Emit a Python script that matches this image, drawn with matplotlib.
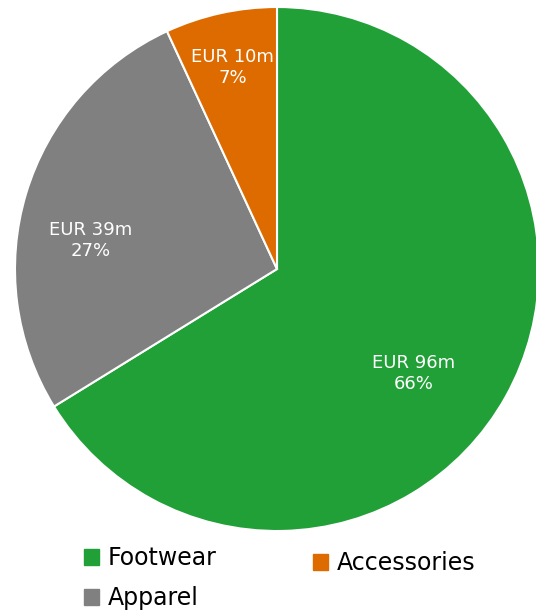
import numpy as np
import matplotlib.pyplot as plt
from matplotlib.patches import Patch

categories = ['Footwear', 'Apparel', 'Accessories']
values = [96, 39, 10]
colors = ['#21A038', '#808080', '#DD6B00']
# label spots in data units (pie radius = 1)
label_xy = [(0.52, -0.40), (-0.71, 0.11), (-0.17, 0.77)]

fig = plt.figure(figsize=(5.36, 6.10), dpi=100)
ax = fig.add_axes([15 / 536, 79 / 610, 524 / 536, 524 / 610])

wedges, _ = ax.pie(values, colors=colors, startangle=90, counterclock=False,
                   radius=1, wedgeprops=dict(edgecolor='white', linewidth=1.5))
ax.set_xlim(-1, 1)
ax.set_ylim(-1, 1)
ax.set_aspect('equal')

total = sum(values)
for v, (x, y) in zip(values, label_xy):
    ax.text(x, y, f'EUR {v}m\n{round(v / total * 100)}%', ha='center', va='center',
            color='white', fontsize=13, linespacing=1.2)

handles = [Patch(facecolor=c, edgecolor=c) for c in colors]
leg_kw = dict(frameon=False, fontsize=17, handlelength=0.65, handleheight=0.65,
              handletextpad=0.35, labelspacing=0.68, borderpad=0, borderaxespad=0)
leg1 = fig.legend(handles[:2], categories[:2], loc='upper left',
                  bbox_to_anchor=(84 / 536, 1 - 546 / 610), **leg_kw)
leg2 = fig.legend(handles[2:], categories[2:], loc='upper left',
                  bbox_to_anchor=(313 / 536, 1 - 551 / 610), **leg_kw)

fig.savefig('out.png', dpi=100)
